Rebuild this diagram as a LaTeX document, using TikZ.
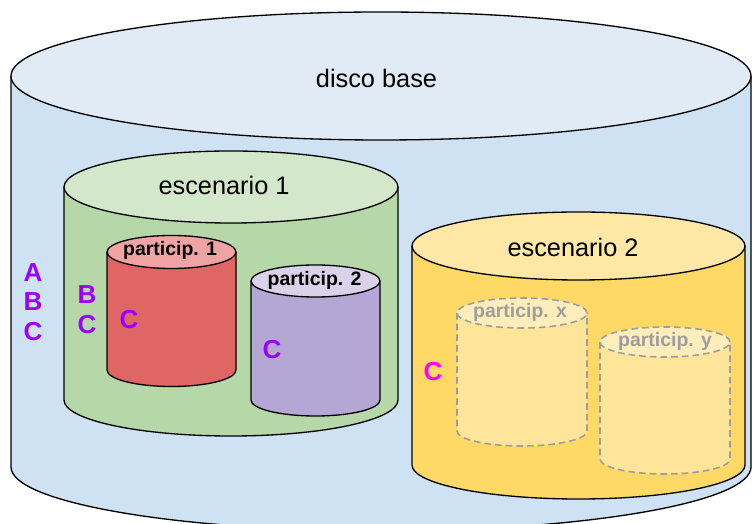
\documentclass[tikz,border=0pt]{standalone}
\usepackage{fontspec}
\setmainfont{Liberation Sans}
\usepackage{tikz}
\definecolor{discoblue}{HTML}{CFE2F3}
\definecolor{discotop}{HTML}{E1EBF6}
\definecolor{escgreen}{HTML}{B6D7A8}
\definecolor{escgreentop}{HTML}{D3E7CB}
\definecolor{partred}{HTML}{E06666}
\definecolor{partredtop}{HTML}{EFA3A3}
\definecolor{partpurple}{HTML}{B4A7D6}
\definecolor{partpurpletop}{HTML}{D9D2E9}
\definecolor{escyellow}{HTML}{FFD966}
\definecolor{escyellowtop}{HTML}{FFE8A5}
\definecolor{ghostbody}{HTML}{FFE599}
\definecolor{ghosttop}{HTML}{FFEEBB}
\definecolor{ghostgray}{HTML}{9E9E9E}
\definecolor{letterpurple}{HTML}{9900FF}
\definecolor{lettermagenta}{HTML}{FF00FF}
\tikzset{
  cylline/.style   = {black,line width=1pt},
  ghostline/.style = {ghostgray,line width=1.2pt,dash pattern=on 5pt off 3pt},
  bigtxt/.style    = {font=\fontsize{19}{21}\selectfont},
  parttxt/.style   = {font=\bfseries\fontsize{14.6}{16}\selectfont},
  lettertxt/.style = {font=\bfseries\fontsize{19.5}{21}\selectfont,text=letterpurple}
}
% #1 cx, #2 y top, #3 y bottom, #4 rx, #5 ry, #6 body, #7 lid, #8 line
\newcommand{\drum}[8]{%
  \fill[#6] (#1-#4,#2) -- (#1-#4,#3)
    arc[start angle=180,end angle=360,x radius=#4,y radius=#5]
    -- (#1+#4,#2)
    arc[start angle=0,end angle=-180,x radius=#4,y radius=#5] -- cycle;
  \draw[#8] (#1-#4,#2) -- (#1-#4,#3)
    arc[start angle=180,end angle=360,x radius=#4,y radius=#5]
    -- (#1+#4,#2);
  \filldraw[#8,fill=#7] (#1,#2) ellipse[x radius=#4,y radius=#5];
}

\begin{document}
\begin{tikzpicture}[x=0.75pt,y=0.75pt]
  \useasboundingbox (0,0) rectangle (753,524);
  \drum{381}{448}{57}{370}{64}{discoblue}{discotop}{cylline}
  \drum{231}{337}{124}{167}{36}{escgreen}{escgreentop}{cylline}
  \drum{171.5}{272}{154}{64.5}{16.5}{partred}{partredtop}{cylline}
  \drum{315.5}{243}{124}{64.5}{16}{partpurple}{partpurpletop}{cylline}
  \drum{578.5}{278}{59}{166.5}{34}{escyellow}{escyellowtop}{cylline}
  \drum{522}{211}{93}{65}{15}{ghostbody}{ghosttop}{ghostline}
  \drum{665}{182}{65}{65}{15}{ghostbody}{ghosttop}{ghostline}

  \node[bigtxt] (disco) at (376.5,446) {disco base};
  \node[bigtxt] (esc1) at (224,339) {escenario 1};
  \node[bigtxt] (esc2) at (573,277) {escenario 2};
  \node[parttxt] (p1) at (170,274) {particip. 1};
  \node[parttxt] (p2) at (314.5,244) {particip. 2};
  \node[parttxt,text=ghostgray] (px) at (520,212) {particip. x};
  \node[parttxt,text=ghostgray] (py) at (665,183) {particip. y};

  \node[lettertxt] (discoA) at (33,251.5) {A};
  \node[lettertxt] (discoB) at (33,222) {B};
  \node[lettertxt] (discoC) at (33,192) {C};
  \node[lettertxt] (esc1B) at (87,229) {B};
  \node[lettertxt] (esc1C) at (87,199) {C};
  \node[lettertxt] (p1C) at (129,204) {C};
  \node[lettertxt] (p2C) at (272,174) {C};
  \node[lettertxt,text=lettermagenta] (esc2C) at (433,152) {C};
\end{tikzpicture}
\end{document}
